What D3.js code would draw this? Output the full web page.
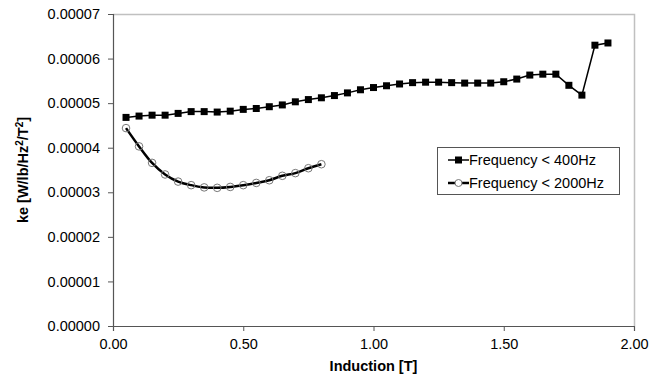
<!DOCTYPE html>
<html>
<head>
<meta charset="utf-8">
<script src="https://cdn.jsdelivr.net/npm/d3@7"></script>
<style>
  body { margin: 0; background: #fff; }
  text { font-family: Arial, "Liberation Sans", sans-serif; }
</style>
</head>
<body>
<div id="chart"></div>
<script>
// induction values (T)
const induction400 = [0.05, 0.10, 0.15, 0.20, 0.25, 0.30, 0.35, 0.40, 0.45, 0.50,
  0.55, 0.60, 0.65, 0.70, 0.75, 0.80, 0.85, 0.90, 0.95, 1.00,
  1.05, 1.10, 1.15, 1.20, 1.25, 1.30, 1.35, 1.40, 1.45, 1.50,
  1.55, 1.60, 1.65, 1.70, 1.75, 1.80, 1.85, 1.90];
const ke400 = [4.68, 4.71, 4.73, 4.73, 4.77, 4.81, 4.81, 4.80, 4.82, 4.86,
  4.88, 4.92, 4.96, 5.03, 5.08, 5.12, 5.17, 5.23, 5.30, 5.35,
  5.39, 5.43, 5.46, 5.47, 5.47, 5.46, 5.45, 5.45, 5.45, 5.48,
  5.54, 5.63, 5.65, 5.65, 5.40, 5.18, 6.30, 6.35].map(v => v * 1e-5);

const induction2000 = [0.05, 0.10, 0.15, 0.20, 0.25, 0.30, 0.35, 0.40,
  0.45, 0.50, 0.55, 0.60, 0.65, 0.70, 0.75, 0.80];
const ke2000 = [4.44, 4.03, 3.66, 3.40, 3.24, 3.16, 3.11, 3.10,
  3.12, 3.16, 3.21, 3.27, 3.37, 3.43, 3.54, 3.63].map(v => v * 1e-5);

const xTicks = [0, 0.5, 1.0, 1.5, 2.0];
const yTicks = [0, 0.00001, 0.00002, 0.00003, 0.00004, 0.00005, 0.00006, 0.00007];
const seriesNames = ['Frequency < 400Hz', 'Frequency < 2000Hz'];

const W = 669, H = 374;
const margin = { top: 14, right: 35, bottom: 48, left: 113 };
const width = W - margin.left - margin.right;
const height = H - margin.top - margin.bottom;
const fs = 14.5;

const svg = d3.select('#chart').append('svg')
  .attr('width', W).attr('height', H);
const g = svg.append('g')
  .attr('transform', `translate(${margin.left},${margin.top})`);

const x = d3.scaleLinear().domain([0, 2]).range([0, width]);
const y = d3.scaleLinear().domain([0, 0.00007]).range([height, 0]);

// plot frame (top/right)
g.append('path')
  .attr('d', `M0,0.5H${width + 0.5}V${height}`)
  .attr('fill', 'none').attr('stroke', '#c0c0c0').attr('stroke-width', 1.5);

// axes
const xAxis = g.append('g')
  .attr('transform', `translate(0,${height})`)
  .call(d3.axisBottom(x).tickValues(xTicks).tickFormat(d3.format('.2f')).tickSizeOuter(0).tickSize(5));
const yAxis = g.append('g')
  .call(d3.axisLeft(y).tickValues(yTicks).tickFormat(d3.format('.5f')).tickSizeOuter(0).tickSize(5));

[xAxis, yAxis].forEach(a => {
  a.select('.domain').attr('stroke', '#555').attr('stroke-width', 1.2);
  a.selectAll('.tick line').attr('stroke', '#555');
  a.selectAll('text').attr('font-size', fs).attr('fill', '#000')
    .style('font-family', 'Arial, "Liberation Sans", sans-serif');
});
xAxis.selectAll('text').attr('y', 8).attr('dy', '1.05em');
yAxis.selectAll('text').attr('x', -13);

// axis titles
svg.append('text')
  .attr('x', margin.left + width / 2).attr('y', 371)
  .attr('text-anchor', 'middle').attr('font-size', fs).attr('font-weight', 'bold')
  .text('Induction [T]');

const yt = svg.append('text')
  .attr('transform', `translate(28,${margin.top + height / 2}) rotate(-90)`)
  .attr('text-anchor', 'middle').attr('font-size', fs).attr('font-weight', 'bold');
yt.append('tspan').text('ke [W/lb/Hz');
yt.append('tspan').attr('baseline-shift', 'super').attr('font-size', 10).text('2');
yt.append('tspan').text('/T');
yt.append('tspan').attr('baseline-shift', 'super').attr('font-size', 10).text('2');
yt.append('tspan').text(']');

// series 1: straight line, square markers
const d400 = induction400.map((v, i) => [v, ke400[i]]);
g.append('path')
  .datum(d400)
  .attr('fill', 'none').attr('stroke', '#000').attr('stroke-width', 1.5)
  .attr('d', d3.line().x(d => x(d[0])).y(d => y(d[1])));
g.selectAll('.sq')
  .data(d400)
  .enter().append('rect')
  .attr('class', 'sq')
  .attr('x', d => x(d[0]) - 3.5).attr('y', d => y(d[1]) - 3.5)
  .attr('width', 7).attr('height', 7).attr('fill', '#000');

// series 2: smoothed line, open circle markers
const d2000 = induction2000.map((v, i) => [v, ke2000[i]]);
g.append('path')
  .datum(d2000)
  .attr('fill', 'none').attr('stroke', '#000').attr('stroke-width', 2.5)
  .attr('d', d3.line().curve(d3.curveCatmullRom.alpha(0.5)).x(d => x(d[0])).y(d => y(d[1])));
g.selectAll('.circ')
  .data(d2000)
  .enter().append('circle')
  .attr('class', 'circ')
  .attr('cx', d => x(d[0])).attr('cy', d => y(d[1]))
  .attr('r', 3.8).attr('fill', 'none').attr('stroke', '#777').attr('stroke-width', 1);

// legend
const lg = svg.append('g').attr('transform', 'translate(437,147)');
lg.append('rect')
  .attr('x', 0.5).attr('y', 0.5).attr('width', 182).attr('height', 47)
  .attr('fill', '#fff').attr('stroke', '#555');
seriesNames.forEach((name, i) => {
  const cy = 13 + i * 23;
  lg.append('line').attr('x1', 11).attr('x2', 32).attr('y1', cy).attr('y2', cy)
    .attr('stroke', '#000').attr('stroke-width', i === 0 ? 1.5 : 2.5);
  if (i === 0) {
    lg.append('rect').attr('x', 18).attr('y', cy - 3.5).attr('width', 7).attr('height', 7).attr('fill', '#000');
  } else {
    lg.append('circle').attr('cx', 21.5).attr('cy', cy).attr('r', 3.5)
      .attr('fill', '#fff').attr('stroke', '#777');
  }
  lg.append('text').attr('x', 32).attr('y', cy + 5).attr('font-size', fs).text(name);
});
</script>
</body>
</html>
